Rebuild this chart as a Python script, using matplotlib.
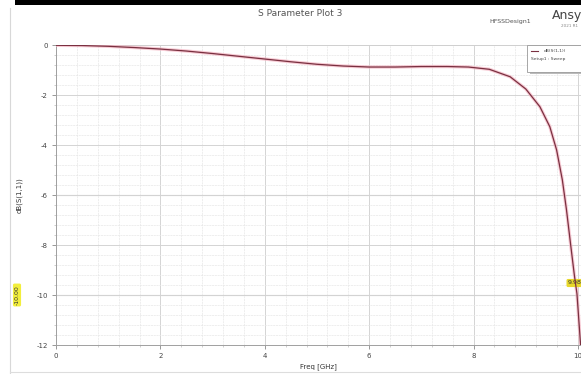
import matplotlib
matplotlib.use("Agg")
import matplotlib.pyplot as plt
from matplotlib.ticker import MultipleLocator
from matplotlib.patches import Rectangle
from matplotlib.lines import Line2D

# Data (Freq in GHz, dB(S(1,1)))
freq = [0, 0.5, 1, 1.5, 2, 2.5, 3, 3.5, 4, 4.5, 5, 5.5, 6, 6.5, 7, 7.5, 7.9,
        8.3, 8.7, 9.0, 9.27, 9.46, 9.59, 9.7, 9.78, 9.86, 9.93, 9.98, 10.06]
s11 = [0, -0.01, -0.04, -0.09, -0.15, -0.23, -0.33, -0.44, -0.55, -0.66, -0.76,
       -0.83, -0.87, -0.87, -0.85, -0.85, -0.87, -0.96, -1.26, -1.75, -2.46,
       -3.26, -4.19, -5.39, -6.6, -8.0, -9.2, -9.95, -12.3]
xticks = [0, 2, 4, 6, 8, 10]
yticks = [0, -2, -4, -6, -8, -10, -12]
marker_y = -10.0
marker_x = 9.98

W, H = 581, 374
fig = plt.figure(figsize=(W / 100, H / 100), dpi=100)
fig.patch.set_facecolor("white")

x_right_px = 581
ppu = (578 - 56) / 10.0
ax = fig.add_axes([56 / W, 1 - 345 / H, (x_right_px - 56) / W, (345 - 45.3) / H])
ax.set_xlim(0, (x_right_px - 56) / ppu)
ax.set_ylim(-12, 0)

# grid
ax.xaxis.set_major_locator(MultipleLocator(2))
ax.yaxis.set_major_locator(MultipleLocator(2))
ax.xaxis.set_minor_locator(MultipleLocator(0.4))
ax.yaxis.set_minor_locator(MultipleLocator(0.4))
ax.grid(which="major", color="#d4d4d4", lw=0.7)
ax.grid(which="minor", color="#e8e8e8", lw=0.5, ls=(0, (3, 1)))
for yv in [-6, -10]:
    ax.axhline(yv, color="#b8b8b8", lw=0.8, zorder=1)

# curve: pink halo + dark red line
ax.plot(freq, s11, color="#f4b4c2", lw=2.4, alpha=0.7, zorder=3,
        solid_joinstyle="round", solid_capstyle="round")
ax.plot(freq, s11, color="#7a3040", lw=0.9, zorder=4, solid_joinstyle="round")

ax.set_xticks(xticks)
ax.set_yticks(yticks)
ax.set_xticklabels([str(v) for v in xticks])
ax.set_yticklabels([str(v) for v in yticks])
ax.tick_params(which="major", length=3, width=0.6, colors="#888888", labelsize=5,
               labelcolor="#444444", pad=3)
ax.tick_params(which="minor", length=1.5, width=0.4, colors="#aaaaaa")
for s in ax.spines.values():
    s.set_color("#a0a0a0")
    s.set_linewidth(0.7)
ax.spines["top"].set_color("#d0d0d0")
ax.spines["right"].set_visible(False)

ax.set_xlabel("Freq [GHz]", fontsize=5, color="#333333", labelpad=3)
ax.set_ylabel("dB(S(1,1))", fontsize=5, color="#333333", labelpad=10)

# marker labels
fig.text(17 / W, 1 - 295 / H, "-10.00", rotation=90, fontsize=4.5, color="#333333",
         ha="center", va="center",
         bbox=dict(boxstyle="round,pad=0.25", fc="#f2ee3c", ec="none"))
ax.annotate("9.98", xy=(marker_x, marker_y), xytext=(575 / W, 1 - 283 / H),
            textcoords="figure fraction", fontsize=4.5, color="#333333",
            ha="center", va="center",
            bbox=dict(boxstyle="round,pad=0.25", fc="#e8d82c", ec="none"))

# titles
fig.text(300 / W, 1 - 13 / H, "S Parameter Plot 3", fontsize=6.5, color="#555555",
         ha="center", va="center")
fig.text(510 / W, 1 - 21 / H, "HFSSDesign1", fontsize=4.5, color="#555555",
         ha="center", va="center")
fig.text(552 / W, 1 - 15 / H, "Ansys", fontsize=9, color="#444444",
         ha="left", va="center")
fig.text(561 / W, 1 - 26 / H, "2021 R1", fontsize=3, color="#888888",
         ha="left", va="center")

# frame decorations
fig.add_artist(Rectangle((15 / W, 1 - 5 / H), 1, 5 / H, transform=fig.transFigure,
                         fc="black", ec="none"))
fig.add_artist(Line2D([10 / W, 10 / W], [0, 1 - 8 / H], transform=fig.transFigure,
                      color="#d8d8d8", lw=0.8))
fig.add_artist(Line2D([10 / W, 1], [2 / H, 2 / H], transform=fig.transFigure,
                      color="#dddddd", lw=0.8))

# legend box
fig.add_artist(Rectangle((530 / W, 1 - 74 / H), 55 / W, 27 / H, transform=fig.transFigure,
                         fc="#bbbbbb", ec="none", zorder=5))
fig.add_artist(Rectangle((527 / W, 1 - 72 / H), 60 / W, 27 / H, transform=fig.transFigure,
                         fc="white", ec="#999999", lw=0.6, zorder=6))
fig.add_artist(Line2D([531 / W, 538 / W], [1 - 51 / H, 1 - 51 / H], transform=fig.transFigure,
                      color="#7a3040", lw=0.8, zorder=7))
fig.text(544 / W, 1 - 51 / H, "dB(S(1,1))", fontsize=3.2, color="#444444", va="center",
         zorder=7)
fig.text(531 / W, 1 - 59 / H, "Setup1 : Sweep", fontsize=3.2, color="#444444",
         va="center", zorder=7)

fig.savefig("out.png", dpi=100)
